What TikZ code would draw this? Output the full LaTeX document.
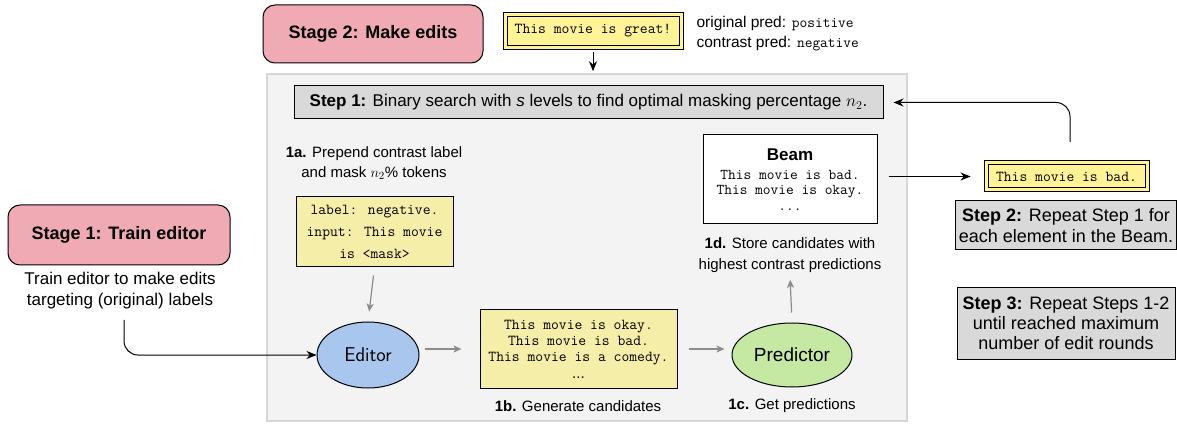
\documentclass[tikz,border=0pt]{standalone}
\usepackage{fontspec}
\setmainfont{Liberation Sans}
\usetikzlibrary{shapes.geometric,arrows.meta}
\definecolor{stagepink}{RGB}{240,170,180}
\definecolor{panelfill}{RGB}{243,243,243}
\definecolor{panelline}{RGB}{214,214,214}
\definecolor{stepgray}{RGB}{217,217,217}
\definecolor{paleyellow}{RGB}{245,238,168}
\definecolor{brightyellow}{RGB}{255,243,150}
\definecolor{editorblue}{RGB}{169,198,238}
\definecolor{predgreen}{RGB}{197,232,163}
\definecolor{arrowgray}{RGB}{140,140,140}
\begin{document}
\begin{tikzpicture}[x=1pt,y=-1pt,
		stagebox/.style={draw, line width=1pt, rounded corners=12pt, fill=stagepink, font=\fontsize{18}{22}\selectfont\bfseries},
		stepbox/.style={draw, line width=1pt, fill=stepgray, align=center},
		inbox/.style={draw, line width=1pt, fill=paleyellow, align=center, font=\ttfamily\fontsize{15.2}{16.3}\selectfont},
		sentbox/.style={draw, line width=1pt, double=brightyellow, double distance=3pt, fill=brightyellow, font=\ttfamily\fontsize{15.2}{17}\selectfont},
		caption/.style={align=center, font=\fontsize{15}{20.5}\selectfont},
		blk/.style={-{Stealth[length=10pt,width=8pt]}, line width=1pt},
		gry/.style={-{Stealth[length=8pt,width=7pt,inset=2pt]}, draw=arrowgray, line width=1.2pt}]
	\useasboundingbox (0,0) rectangle (1177,427);
	% stage 2 panel
	\node[draw=panelline, line width=1.5pt, fill=panelfill, minimum width=640, minimum height=347] (panel) at (587,247.5) {};
	\node[stagebox, minimum width=220, minimum height=58] (stagetwo) at (373,34) {Stage 2: Make edits};
	\node[sentbox, minimum width=176, minimum height=33] (orig) at (593,31) {This movie is great!};
	\node[anchor=west, align=left, font=\fontsize{15.5}{19.5}\selectfont] (preds) at (693,33.5) {original pred: {\ttfamily\fontsize{15}{19.5}\selectfont positive}\\contrast pred: {\ttfamily\fontsize{15}{19.5}\selectfont negative}};
	\node[stepbox, minimum width=589, minimum height=33, font=\fontsize{17}{20}\selectfont] (stepone) at (588.5,102.5) {\textbf{Step 1:} Binary search with \textit{s} levels to find optimal masking percentage $n_2$.};
	% 1a - 1d
	\node[caption] (capa) at (374,163) {\textbf{1a.} Prepend contrast label\\and mask $n_2\%$ tokens};
	\node[inbox, minimum width=157, minimum height=70, font=\ttfamily\fontsize{15.2}{22}\selectfont] (labelbox) at (374.5,232) {label: negative.\\input: This movie\\is <mask>};
	\node[draw, ellipse, line width=1pt, fill=editorblue, minimum width=102, minimum height=66, font=\sffamily\fontsize{20}{24}\selectfont] (editor) at (368,355) {Editor};
	\node[inbox, minimum width=197, minimum height=78] (cands) at (578.5,349) {This movie is okay.\\This movie is bad.\\This movie is a comedy.\\{\rmfamily ...}};
	\node[caption] (capb) at (578,406) {\textbf{1b.} Generate candidates};
	\node[draw, ellipse, line width=1pt, fill=predgreen, minimum width=120, minimum height=64, font=\fontsize{19}{23}\selectfont] (pred) at (792,355) {Predictor};
	\node[caption] (capc) at (792,406) {\textbf{1c.} Get predictions};
	\node[caption] (capd) at (790,255) {\textbf{1d.} Store candidates with\\highest contrast predictions};
	\node[draw, line width=1pt, fill=white, align=center, minimum width=174, minimum height=89, font=\ttfamily\fontsize{15}{15.5}\selectfont] (beam) at (790,179.5) {{\rmfamily\bfseries\fontsize{17}{20}\selectfont Beam}\\[3pt]This movie is bad.\\This movie is okay.\\...};
	% right side
	\node[sentbox, minimum width=161, minimum height=27] (bad) at (1066.5,176.5) {This movie is bad.};
	\node[stepbox, minimum width=218, minimum height=49, font=\fontsize{18}{21}\selectfont] (steptwo) at (1066,225.5) {\textbf{Step 2:} Repeat Step 1 for\\each element in the Beam.};
	\node[stepbox, minimum width=218, minimum height=71, font=\fontsize{18}{20}\selectfont] (stepthree) at (1066,323.5) {\textbf{Step 3:} Repeat Steps 1-2\\until reached maximum\\number of edit rounds};
	% stage 1
	\node[stagebox, minimum width=222, minimum height=60] (stageone) at (119,235) {Stage 1: Train editor};
	\node[align=center, font=\fontsize{17}{21}\selectfont] (train) at (120,291) {Train editor to make edits\\targeting (original) labels};
	\coordinate (trainout) at (124,320);
	\coordinate (loopstart) at (1070,142);
	% arrows
	\draw[blk, shorten <=4pt, shorten >=2pt] (orig.south) -- (orig.south |- panel.north);
	\draw[blk, rounded corners=14pt] (trainout) |- (editor.west);
	\draw[blk, rounded corners=14pt, shorten >=10pt] (loopstart) |- (stepone.east);
	\draw[blk, shorten <=11pt, shorten >=15pt] (beam.east |- bad.west) -- (bad.west);
	\draw[gry, shorten <=8pt, shorten >=10pt] (labelbox.south) -- (editor.north);
	\draw[gry, shorten <=5pt, shorten >=18pt] (editor.east |- cands.west) -- (cands.west);
	\draw[gry, shorten <=11pt, shorten >=7pt] (cands.east) -- (pred.west |- cands.east);
	\draw[gry, shorten <=10pt, shorten >=4pt] (pred.north) -- (capd.south);
\end{tikzpicture}
\end{document}
